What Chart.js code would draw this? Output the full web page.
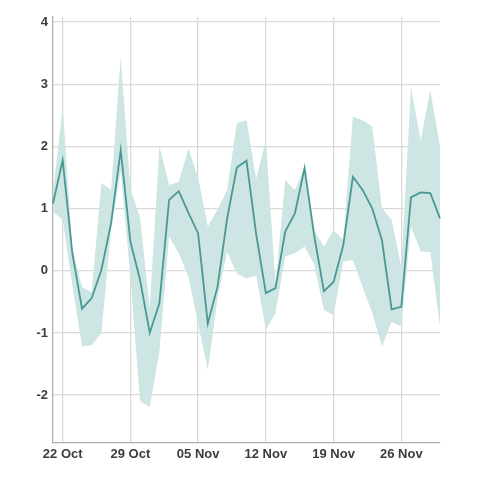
<!DOCTYPE html>
<html>
<head>
<meta charset="utf-8">
<script src="https://cdn.jsdelivr.net/npm/chart.js@4/dist/chart.umd.min.js"></script>
<style>
html,body{margin:0;padding:0;background:#fff;}
#wrap{width:480px;height:480px;position:relative;}
</style>
</head>
<body>
<div id="wrap"><canvas id="c" width="480" height="480"></canvas></div>
<script>
const dates = ['21 Oct','22 Oct','23 Oct','24 Oct','25 Oct','26 Oct','27 Oct','28 Oct','29 Oct','30 Oct','31 Oct',
  '01 Nov','02 Nov','03 Nov','04 Nov','05 Nov','06 Nov','07 Nov','08 Nov','09 Nov','10 Nov',
  '11 Nov','12 Nov','13 Nov','14 Nov','15 Nov','16 Nov','17 Nov','18 Nov','19 Nov','20 Nov',
  '21 Nov','22 Nov','23 Nov','24 Nov','25 Nov','26 Nov','27 Nov','28 Nov','29 Nov','30 Nov'];
const meanValues = [1.08,1.78,0.28,-0.61,-0.44,0.01,0.76,1.94,0.47,-0.15,-1.0,
  -0.52,1.14,1.28,0.93,0.6,-0.85,-0.26,0.84,1.66,1.77,
  0.59,-0.36,-0.28,0.63,0.92,1.65,0.56,-0.33,-0.18,0.41,
  1.51,1.30,1.0,0.49,-0.62,-0.58,1.18,1.26,1.25,0.84];
const upperValues = [1.25,2.64,0.35,-0.26,-0.35,1.41,1.3,3.44,1.32,0.85,-0.6,
  2.0,1.38,1.43,1.97,1.5,0.71,0.98,1.3,2.37,2.42,
  1.48,2.1,-0.2,1.46,1.3,1.66,0.65,0.39,0.65,0.5,
  2.48,2.42,2.32,1.0,0.82,0.06,2.95,2.1,2.9,2.0];
const lowerValues = [0.95,0.82,-0.24,-1.22,-1.2,-1.0,0.65,1.6,-0.1,-2.1,-2.19,
  -1.3,0.55,0.28,-0.1,-0.85,-1.6,-0.45,0.3,-0.05,-0.12,
  -0.08,-0.95,-0.68,0.23,0.28,0.39,0.1,-0.63,-0.71,0.15,
  0.17,-0.26,-0.68,-1.22,-0.82,-0.9,0.71,0.31,0.3,-0.9];
const xTickLabels = ['22 Oct','29 Oct','05 Nov','12 Nov','19 Nov','26 Nov'];
const yTickValues = [-2,-1,0,1,2,3,4];

const lineColor = 'rgb(74,152,147)';
const bandColor = 'rgba(205,230,228,1)';
const fontSpec = {family: '"Liberation Sans", Arial, sans-serif', size: 13, weight: 'bold'};

new Chart(document.getElementById('c'), {
  type: 'line',
  data: {
    labels: dates,
    datasets: [
      {data: upperValues, fill: '+1', backgroundColor: bandColor, borderWidth: 0, pointRadius: 0, tension: 0, order: 2},
      {data: lowerValues, fill: false, borderWidth: 0, pointRadius: 0, tension: 0, order: 2},
      {data: meanValues, fill: false, borderColor: lineColor, borderWidth: 1.8, pointRadius: 0, tension: 0, order: 1}
    ]
  },
  options: {
    responsive: false,
    animation: false,
    devicePixelRatio: 1,
    layout: {padding: {top: 17, right: 40, left: 0, bottom: 0}},
    plugins: {legend: {display: false}, tooltip: {enabled: false}},
    scales: {
      x: {
        type: 'category',
        offset: false,
        grid: {color: '#d9d9d9', lineWidth: 1.3, drawTicks: false},
        border: {color: '#b0b0b0', width: 1.3},
        ticks: {
          autoSkip: false, maxRotation: 0, minRotation: 0, padding: 4,
          color: '#3c3c3c', font: fontSpec,
          callback: function(value) {
            const lab = this.getLabelForValue(value);
            return xTickLabels.includes(lab) ? lab : null;
          }
        },
        afterFit: function(s) { s.height = 37; }
      },
      y: {
        min: -2.77, max: 4.08,
        grid: {color: '#d9d9d9', lineWidth: 1.3, drawTicks: false},
        border: {color: '#b0b0b0', width: 1.3},
        ticks: {padding: 5, color: '#3c3c3c', font: fontSpec},
        afterBuildTicks: function(s) { s.ticks = yTickValues.map(v => ({value: v})); },
        afterFit: function(s) { s.width = 53; }
      }
    }
  }
});
</script>
</body>
</html>
